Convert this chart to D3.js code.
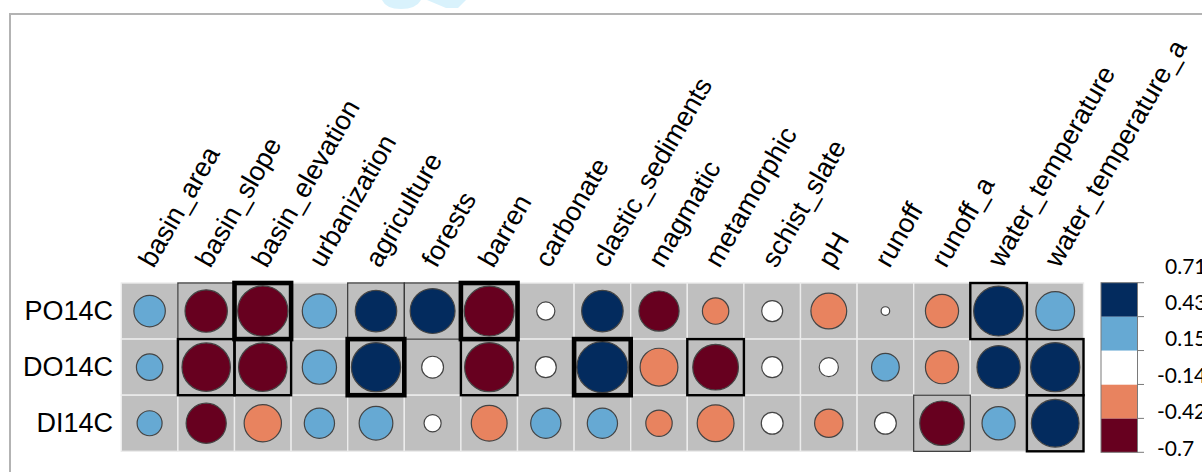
<!DOCTYPE html>
<html>
<head>
<meta charset="utf-8">
<script src="https://cdn.jsdelivr.net/npm/d3@7"></script>
<style>
  html, body { margin: 0; padding: 0; background: #fff; overflow: hidden; }
  svg { display: block; }
</style>
</head>
<body>
<svg id="chart" width="1202" height="472"></svg>
<script>
// Response variables (rows) and explanatory variables (columns)
const rowNames = ["PO14C", "DO14C", "DI14C"];
const colNames = ["basin_area", "basin_slope", "basin_elevation", "urbanization", "agriculture",
  "forests", "barren", "carbonate", "clastic_sediments", "magmatic", "metamorphic",
  "schist_slate", "pH", "runoff", "runoff_a", "water_temperature", "water_temperature_a"];

// Correlation coefficients per row
const corrPO = [0.27, -0.49, -0.69, 0.32, 0.47, 0.55, -0.68, 0.09, 0.47, -0.44, -0.19, 0.12, -0.35, 0.02, -0.30, 0.68, 0.41];
const corrDO = [0.19, -0.64, -0.64, 0.32, 0.66, 0.13, -0.66, 0.12, 0.71, -0.39, -0.57, 0.12, 0.10, 0.21, -0.30, 0.51, 0.66];
const corrDI = [0.17, -0.44, -0.38, 0.25, 0.31, 0.08, -0.35, 0.25, 0.25, -0.19, -0.37, 0.13, -0.22, 0.13, -0.54, 0.30, 0.62];

// Significance level per cell (0 = none, 1 = p<0.05, 2 = p<0.01, 3 = p<0.001)
const sigPO = [0, 1, 3, 0, 1, 1, 3, 0, 0, 0, 0, 0, 0, 0, 0, 2, 0];
const sigDO = [0, 2, 2, 0, 3, 0, 2, 0, 3, 0, 2, 0, 0, 0, 0, 0, 2];
const sigDI = [0, 0, 0, 0, 0, 0, 0, 0, 0, 0, 0, 0, 0, 0, 1, 0, 2];

// Colour bins of the legend
const binBreaks = [-0.7, -0.418, -0.136, 0.146, 0.428, 0.71];
const binColors = ["#67001F", "#E8835F", "#FFFFFF", "#66A9D3", "#032B5E"];
const legendLabels = ["0.71", "0.43", "0.15", "-0.14", "-0.42", "-0.7"];

const corrRows = [corrPO, corrDO, corrDI];
const sigRows = [sigPO, sigDO, sigDI];

const cells = [];
rowNames.forEach((r, i) => colNames.forEach((c, j) => {
  cells.push({ row: r, col: c, value: corrRows[i][j], sig: sigRows[i][j] });
}));

const svg = d3.select("#chart");
const font = "'Liberation Sans', Arial, Helvetica, sans-serif";

// Faint watermark fragment at the top edge
const wm = svg.append("g").attr("fill", "#d9f2fc");
wm.append("path").attr("d", "M382,0 Q386,9 401,9 Q416,9 421,0 Z");
wm.append("path").attr("d", "M427,0 L466,0 L458,8 L446,8 Z");

// Outer frame
svg.append("path")
  .attr("d", "M10,480 L10,14 L1210,14")
  .attr("fill", "none").attr("stroke", "#b3b3b3").attr("stroke-width", 2);

const x = d3.scaleBand().domain(colNames).range([121.3, 1083.5]);
const y = d3.scaleBand().domain(rowNames).range([283, 451.3]);
const radius = d3.scaleSqrt().domain([0, 0.71]).range([0, 25.5]);
const color = d3.scaleThreshold().domain(binBreaks.slice(1, -1)).range(binColors);

// Cell backgrounds
svg.append("g").selectAll("rect").data(cells).join("rect")
  .attr("x", d => x(d.col)).attr("y", d => y(d.row))
  .attr("width", x.bandwidth()).attr("height", y.bandwidth())
  .attr("fill", "#bfbfbf").attr("stroke", "#ececec").attr("stroke-width", 1.4);

// Circles: area proportional to |r|, colour binned by r
svg.append("g").selectAll("circle").data(cells).join("circle")
  .attr("cx", d => x(d.col) + x.bandwidth() / 2)
  .attr("cy", d => y(d.row) + y.bandwidth() / 2)
  .attr("r", d => radius(Math.abs(d.value)))
  .attr("fill", d => color(d.value))
  .attr("stroke", "#444").attr("stroke-width", 1.2);

// Significance boxes
const boxStyle = {
  1: { w: 1.3, c: "#3a3a3a" },
  2: { w: 2.4, c: "#000" },
  3: { w: 4.6, c: "#000" }
};
svg.append("g").selectAll("rect")
  .data(cells.filter(d => d.sig > 0).sort((a, b) => a.sig - b.sig))
  .join("rect")
  .attr("x", d => x(d.col)).attr("y", d => y(d.row))
  .attr("width", x.bandwidth()).attr("height", y.bandwidth())
  .attr("fill", "none")
  .attr("stroke", d => boxStyle[d.sig].c)
  .attr("stroke-width", d => boxStyle[d.sig].w);

// Row labels
svg.append("g").selectAll("text").data(rowNames).join("text")
  .attr("x", 113).attr("y", d => y(d) + y.bandwidth() / 2)
  .attr("text-anchor", "end").attr("dominant-baseline", "central")
  .style("font-family", font).style("font-size", "27px").attr("fill", "#000")
  .text(d => d);

// Column labels, rotated 60 degrees
svg.append("g").selectAll("text").data(colNames).join("text")
  .attr("transform", d => `translate(${x(d) + x.bandwidth() / 2 + 4},269) rotate(-60)`)
  .attr("text-anchor", "start")
  .style("font-family", font).style("font-size", "27px").attr("fill", "#000")
  .text(d => d);

// Colour legend
const ly = d3.scaleLinear().domain([-0.7, 0.71]).range([452.3, 282.7]);
const lg = svg.append("g");
lg.selectAll("rect").data(d3.pairs(binBreaks)).join("rect")
  .attr("x", 1101).attr("width", 36.5)
  .attr("y", d => ly(d[1])).attr("height", d => ly(d[0]) - ly(d[1]))
  .attr("fill", (d, i) => binColors[i]);
lg.append("rect").attr("x", 1101).attr("width", 36.5)
  .attr("y", ly(0.71)).attr("height", ly(-0.7) - ly(0.71))
  .attr("fill", "none").attr("stroke", "#7a7a7a").attr("stroke-width", 1);
lg.selectAll("line").data(binBreaks).join("line")
  .attr("x1", 1137.5).attr("x2", 1144)
  .attr("y1", d => ly(d)).attr("y2", d => ly(d))
  .attr("stroke", "#7a7a7a").attr("stroke-width", 1);

const labelY = d3.scalePoint().domain(legendLabels).range([265, 447]);
lg.selectAll("text").data(legendLabels).join("text")
  .attr("x", d => d.startsWith("-") ? 1157 : 1165)
  .attr("y", d => labelY(d))
  .attr("dominant-baseline", "central")
  .style("font-family", "Lato, 'Open Sans', sans-serif").style("font-size", "21px")
  .attr("fill", "#000")
  .text(d => d);
</script>
</body>
</html>
